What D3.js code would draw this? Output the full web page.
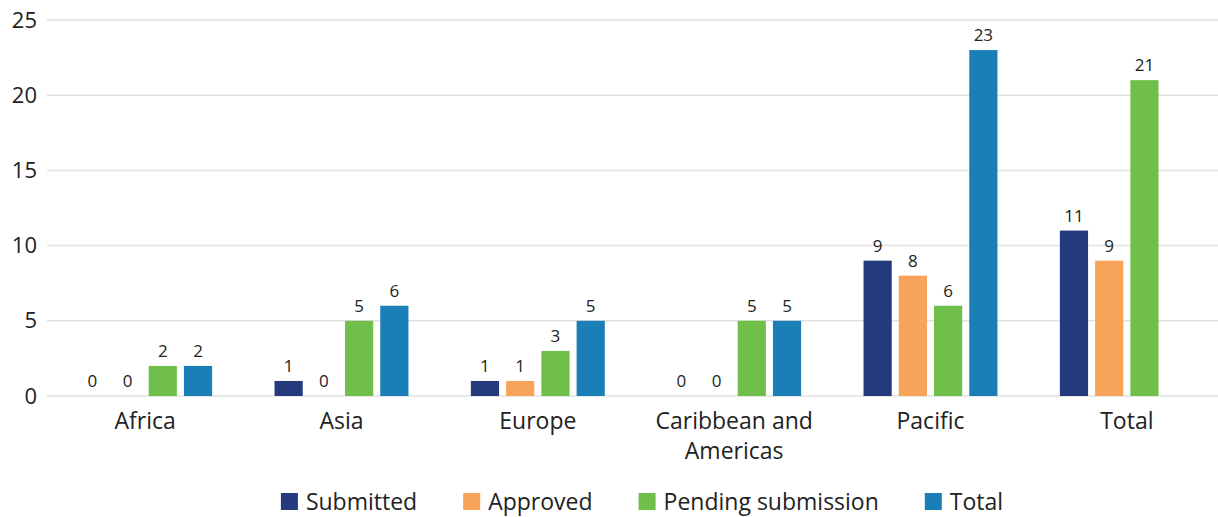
<!DOCTYPE html>
<html>
<head>
<meta charset="utf-8">
<script src="https://cdn.jsdelivr.net/npm/d3@7"></script>
<style>
  body { margin: 0; background: #fff; }
  svg { font-family: 'Open Sans', sans-serif; }
</style>
</head>
<body>
<svg id="chart" width="1218" height="517"></svg>
<script>
(function () {
'use strict';

var categories = ['Africa', 'Asia', 'Europe', 'Caribbean and Americas', 'Pacific', 'Total'];
var seriesNames = ['Submitted', 'Approved', 'Pending submission', 'Total'];
var submitted = [0, 1, 1, 0, 9, 11];
var approved = [0, 0, 1, 0, 8, 9];
var pending = [2, 5, 3, 5, 6, 21];
var totals = [2, 6, 5, 5, 23, null];
var yTicks = [0, 5, 10, 15, 20, 25];

var colors = ['#243a7d', '#f7a35a', '#70bf4b', '#1a7fb6'];
var seriesValues = [submitted, approved, pending, totals];

var svg = d3.select('#chart');
var margin = {top: 20, left: 47, right: -7, bottom: 121},
    width = 1218 - margin.left - margin.right,
    height = 517 - margin.top - margin.bottom;

var g = svg.append('g')
    .attr('transform', 'translate(' + margin.left + ',' + margin.top + ')');

var x0 = d3.scaleBand()
    .domain(categories)
    .range([0, width])
    .paddingInner(0.282)
    .paddingOuter(0.141);

var x1 = d3.scaleBand()
    .domain(seriesNames)
    .range([0, x0.bandwidth()])
    .paddingInner(0.2)
    .paddingOuter(0.1);

var y = d3.scaleLinear().domain([0, 25]).range([height, 0]);

// gridlines
g.selectAll('.grid')
  .data(yTicks)
  .enter()
  .append('line')
  .attr('x1', 0)
  .attr('x2', width)
  .attr('y1', function(d) { return y(d); })
  .attr('y2', function(d) { return y(d); })
  .attr('stroke', '#e1e1e1')
  .attr('stroke-width', 1.5);

// y axis labels
var yAxis = g.append('g')
  .call(d3.axisLeft(y).tickValues(yTicks).tickSize(0).tickPadding(10));
yAxis.select('.domain').remove();
yAxis.selectAll('text')
  .attr('font-size', 22)
  .attr('font-family', "'Open Sans', sans-serif")
  .attr('fill', '#222')
  .attr('x', -10);

// bars (the Total group has no Total bar)
var rows = [];
categories.forEach(function(c, i) {
  seriesNames.forEach(function(s, j) {
    if (seriesValues[j][i] !== null) {
      rows.push({cat: c, series: s, idx: j, value: seriesValues[j][i]});
    }
  });
});

var groups = g.selectAll('.bar')
  .data(rows)
  .enter()
  .append('g')
  .attr('transform', function(d) { return 'translate(' + (x0(d.cat) + x1(d.series)) + ',0)'; });

groups.append('rect')
  .attr('x', 0)
  .attr('width', x1.bandwidth())
  .attr('y', function(d) { return y(d.value); })
  .attr('height', function(d) { return height - y(d.value); })
  .attr('fill', function(d) { return colors[d.idx]; });

groups.append('text')
  .attr('x', x1.bandwidth() / 2)
  .attr('y', function(d) { return y(d.value) - 9; })
  .attr('text-anchor', 'middle')
  .attr('font-size', 17)
  .attr('fill', '#222')
  .text(function(d) { return d.value; });

// category labels, wrapped
var catText = g.selectAll('.cat')
  .data(categories)
  .enter()
  .append('text')
  .attr('text-anchor', 'middle')
  .attr('font-size', 23)
  .attr('fill', '#222')
  .attr('transform', function(d) { return 'translate(' + (x0(d) + x0.bandwidth() / 2) + ',' + (height + 33) + ')'; });

catText.each(function(d) {
  var lines = d === 'Caribbean and Americas' ? ['Caribbean and', 'Americas'] : [d];
  var t = d3.select(this);
  lines.forEach(function(l, i) {
    t.append('tspan').attr('x', 0).attr('dy', i ? 30 : 0).text(l);
  });
});

// legend
var legend = svg.append('g');
var cx = 0;
var items = legend.selectAll('.item')
  .data(seriesNames)
  .enter()
  .append('g');

items.append('rect')
  .attr('width', 17)
  .attr('height', 17)
  .attr('y', -17)
  .attr('fill', function(d, i) { return colors[i]; });

items.append('text')
  .attr('x', 25)
  .attr('font-size', 23)
  .attr('fill', '#222')
  .text(function(d) { return d; });

items.each(function() {
  var w = d3.select(this).select('text').node().getComputedTextLength();
  d3.select(this).attr('transform', 'translate(' + cx + ',0)');
  cx += 25 + w + 46;
});
var legendWidth = cx - 46;
legend.attr('transform', 'translate(' + (642 - legendWidth / 2) + ',510)');

})();
</script>
</body>
</html>
